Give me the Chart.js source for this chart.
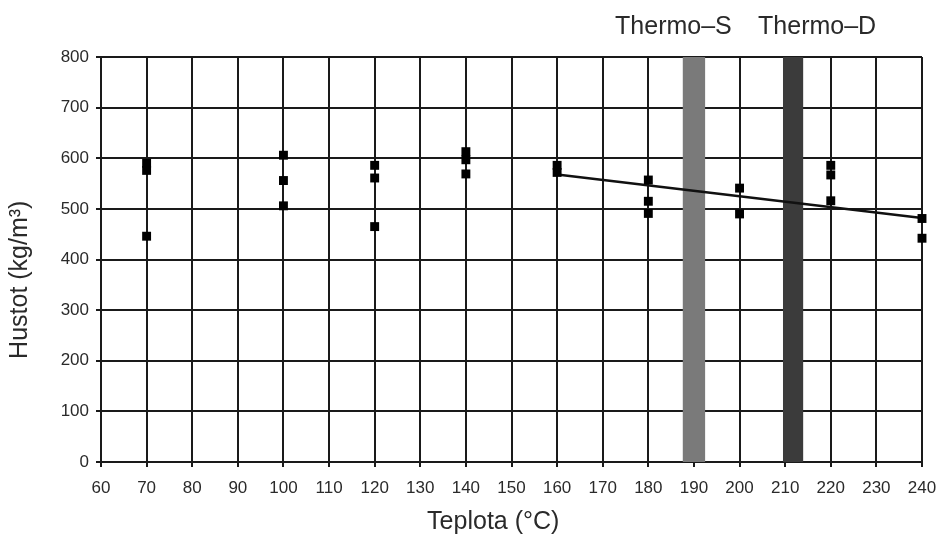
<!DOCTYPE html>
<html>
<head>
<meta charset="utf-8">
<script src="https://cdn.jsdelivr.net/npm/chart.js@4/dist/chart.umd.min.js"></script>
<style>
  html, body { margin: 0; padding: 0; background: #fff; }
  #wrap { width: 939px; height: 535px; position: relative; }
</style>
</head>
<body>
<div id="wrap"><canvas id="c" width="939" height="535"></canvas></div>
<script>
// ---- data ----
const pointTemps = [70, 70, 70, 100, 100, 100, 120, 120, 120, 140, 140, 140, 160, 160, 180, 180, 180, 200, 200, 220, 220, 220, 240, 240];
const densities  = [590, 576, 446, 606, 556, 506, 586, 561, 465, 613, 597, 569, 586, 572, 557, 515, 491, 541, 490, 586, 567, 516, 481, 442];
const trendTemps = [160, 240];
const trendDensity = [568, 482];
const zoneNames = ['Thermo\u2013S', 'Thermo\u2013D'];
const zoneStart = [187.5, 209.5];
const zoneEnd = [192.5, 214];
const zoneLabelAt = [185.5, 217];
const xTitle = 'Teplota (\u00b0C)';
const yTitle = 'Hustot (kg/m\u00b3)';

const FONT = "'Liberation Sans', Arial, sans-serif";
const TXT = '#2a2a2a';
const zoneColors = ['#7a7a7a', '#3b3b3b'];

const scatterData = pointTemps.map((t, i) => ({ x: t, y: densities[i] }));
const trendData = trendTemps.map((t, i) => ({ x: t, y: trendDensity[i] }));

const zoneDatasets = zoneNames.map((n, i) => ({
  type: 'line',
  label: n,
  data: [{ x: zoneStart[i], y: 800 }, { x: zoneEnd[i], y: 800 }],
  showLine: true,
  fill: 'origin',
  backgroundColor: zoneColors[i],
  borderColor: zoneColors[i],
  borderWidth: 0,
  pointRadius: 0,
  order: 3
}));

const textPlugin = {
  id: 'textPlugin',
  afterDraw(chart) {
    const ctx = chart.ctx;
    const xs = chart.scales.x;
    const ys = chart.scales.y;
    ctx.save();
    ctx.font = '25px ' + FONT;
    ctx.fillStyle = TXT;
    ctx.textAlign = 'center';
    ctx.textBaseline = 'middle';
    zoneNames.forEach((n, i) => {
      ctx.fillText(n, xs.getPixelForValue(zoneLabelAt[i]), 27);
    });
    // axis titles
    ctx.fillText(xTitle, xs.getPixelForValue(146), 522);
    ctx.translate(20, ys.getPixelForValue(360));
    ctx.rotate(-Math.PI / 2);
    ctx.fillText(yTitle, 0, 0);
    ctx.restore();
  }
};

new Chart(document.getElementById('c'), {
  type: 'scatter',
  data: {
    datasets: [
      ...zoneDatasets,
      {
        type: 'line',
        label: 'trend',
        data: trendData,
        showLine: true,
        borderColor: '#111',
        borderWidth: 2.5,
        pointRadius: 0,
        fill: false,
        clip: false,
        order: 2
      },
      {
        label: 'Hustota',
        data: scatterData,
        pointStyle: 'rect',
        pointRadius: 6.3,
        pointHoverRadius: 6.3,
        backgroundColor: '#000',
        borderColor: '#000',
        borderWidth: 0,
        clip: false,
        order: 1
      }
    ]
  },
  options: {
    responsive: false,
    animation: false,
    layout: { padding: { top: 57, right: 17, left: 4, bottom: 0 } },
    plugins: { legend: { display: false }, tooltip: { enabled: false } },
    scales: {
      x: {
        type: 'linear',
        min: 60, max: 240,
        afterFit(s) { s.height = 73; s.paddingRight = 0; s.paddingLeft = 0; },
        ticks: { stepSize: 10, color: TXT, font: { family: FONT, size: 17 }, padding: 11, maxRotation: 0 },
        grid: { color: '#1a1a1a', lineWidth: 2, tickLength: 5, drawTicks: true },
        border: { color: '#1a1a1a', width: 2 },
        title: { display: false }
      },
      y: {
        min: 0, max: 800,
        afterFit(s) { s.width = 97; s.paddingTop = 0; s.paddingBottom = 0; },
        ticks: { stepSize: 100, color: TXT, font: { family: FONT, size: 17 }, padding: 7 },
        grid: { color: '#1a1a1a', lineWidth: 2, tickLength: 5 },
        border: { color: '#1a1a1a', width: 2 },
        title: { display: false }
      }
    }
  },
  plugins: [textPlugin]
});
</script>
</body>
</html>
